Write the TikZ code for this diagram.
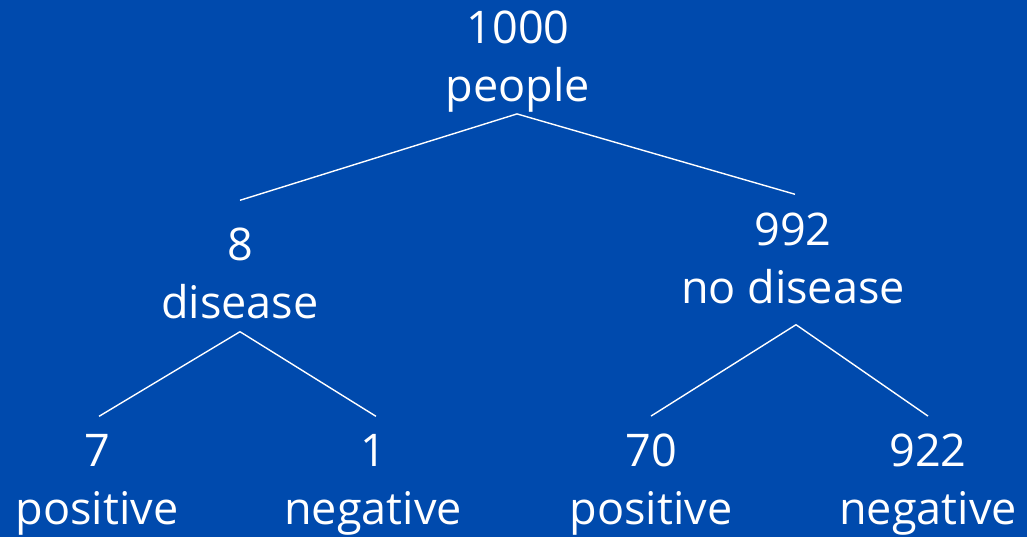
\documentclass[tikz,border=0pt]{standalone}
\usepackage{fontspec}
\setmainfont{Open Sans}
\definecolor{slideblue}{HTML}{004AAD}
\begin{document}
\begin{tikzpicture}[x=1pt, y=-1pt, style={
    countstyle/.style={
      align=center,
      inner sep=0pt,
      text=white,
      font=\fontsize{45}{58}\selectfont,
    },
    myline/.style={white, line width=1.4pt}
  }]
  \fill[slideblue] (0,0) rectangle (1027,537);
  \draw[]
    node[countstyle] (people) at (518,61.5) {1000\\people}
    node[countstyle] (disease) at (240,273.5) {8\\disease}
    node[countstyle] (nodisease) at (793,258.5) {992\\no disease}
    node[countstyle] (dispos) at (97,484.5) {7\\positive}
    node[countstyle] (disneg) at (373,484.5) {1\\negative}
    node[countstyle] (nodpos) at (651,484.5) {70\\positive}
    node[countstyle] (nodneg) at (928,484.5) {922\\negative}
  ;
  \draw[myline] ([xshift=-1pt, yshift=-1.5pt]people.south) -- ([yshift=27.5pt]disease.north);
  \draw[myline] ([xshift=-1pt, yshift=-1.5pt]people.south) -- ([xshift=2pt, yshift=18.5pt]nodisease.north);
  \draw[myline] ([yshift=-12.5pt]disease.south) -- ([xshift=2pt, yshift=17.5pt]dispos.north);
  \draw[myline] ([yshift=-12.5pt]disease.south) -- ([xshift=3pt, yshift=17.5pt]disneg.north);
  \draw[myline] ([xshift=3pt, yshift=-20.5pt]nodisease.south) -- ([yshift=17.5pt]nodpos.north);
  \draw[myline] ([xshift=3pt, yshift=-20.5pt]nodisease.south) -- ([yshift=17.5pt]nodneg.north);
\end{tikzpicture}
\end{document}
